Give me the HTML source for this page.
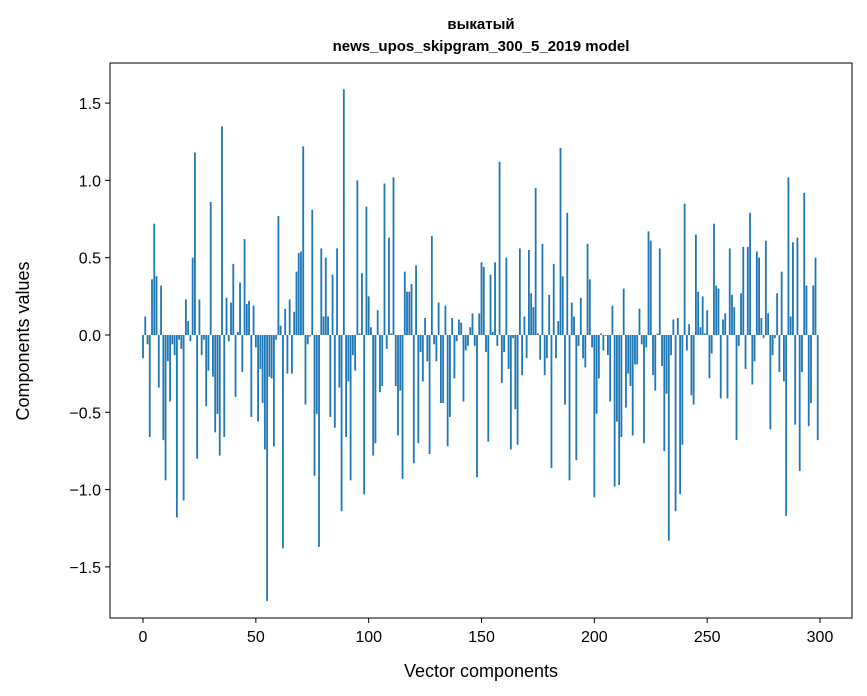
<!DOCTYPE html>
<html><head><meta charset="utf-8"><style>
body{margin:0;background:#fff;}
svg{display:block;font-family:"Liberation Sans","DejaVu Sans",sans-serif;}
</style></head><body>
<svg id="chart" width="867" height="696" viewBox="0 0 867 696" xmlns="http://www.w3.org/2000/svg">
<rect x="0" y="0" width="867" height="696" fill="#fff"/>
<text x="481" y="29" text-anchor="middle" font-size="15" font-weight="bold">выкатый</text>
<text x="481" y="51" text-anchor="middle" font-size="15" font-weight="bold">news_upos_skipgram_300_5_2019 model</text>
<g id="bars"></g>
<g id="xticks"></g>
<g id="yticks"></g>
<rect x="110" y="63" width="742" height="555" fill="none" stroke="#000" stroke-width="1"/>
<text x="481" y="677" text-anchor="middle" font-size="18">Vector components</text>
<text x="0" y="0" transform="translate(29,341) rotate(-90)" text-anchor="middle" font-size="18">Components values</text>
</svg>
<script>
const values = [
-0.15,0.12,-0.06,-0.66,0.36,0.72,0.38,-0.34,0.32,-0.68,-0.94,-0.17,-0.43,-0.06,-0.13,-1.18,-0.03,-0.09,-1.07,0.23,0.09,-0.04,0.5,1.18,-0.8,
0.23,-0.13,-0.03,-0.46,-0.23,0.86,-0.27,-0.63,-0.51,-0.78,1.35,-0.66,0.24,-0.04,0.21,0.46,-0.4,0.02,0.34,-0.24,0.62,0.2,0.22,-0.53,0.19,
-0.08,-0.56,-0.22,-0.44,-0.74,-1.72,-0.27,-0.28,-0.72,-0.03,0.77,0.06,-1.38,0.17,-0.25,0.23,-0.25,0.15,0.41,0.53,0.54,1.22,-0.45,-0.06,-0.01,
0.81,-0.91,-0.51,-1.37,0.56,0.12,0.5,0.12,-0.53,0.39,-0.6,0.56,-0.34,-1.14,1.59,-0.66,-0.3,-0.94,-0.13,-0.23,1.0,0.01,0.4,-1.03,0.83,
0.25,0.05,-0.78,-0.7,0.16,-0.37,-0.33,0.98,-0.09,0.63,0.01,1.02,-0.33,-0.65,-0.36,-0.93,0.41,0.28,0.28,0.33,-0.83,0.45,-0.7,-0.11,-0.3,
0.11,-0.17,-0.77,0.64,-0.06,-0.17,0.21,-0.44,-0.44,0.19,-0.72,-0.53,0.11,-0.28,-0.04,0.1,0.08,-0.43,-0.1,-0.07,0.05,0.14,-0.07,-0.92,0.14,
0.47,0.44,-0.11,-0.69,0.39,0.02,0.47,-0.07,1.12,-0.31,-0.11,0.5,-0.22,-0.74,-0.02,-0.48,-0.71,0.56,-0.26,0.12,-0.15,0.55,0.27,0.18,0.95,
0.01,-0.16,0.59,-0.26,-0.15,0.26,-0.86,0.46,-0.15,0.09,1.21,0.38,-0.45,0.79,-0.94,0.21,0.12,-0.81,-0.07,0.24,-0.15,-0.21,0.59,0.36,-0.08,
-1.05,-0.51,-0.28,0.01,-0.1,-0.005,-0.13,-0.43,0.19,-0.98,-0.56,-0.97,-0.66,0.3,-0.47,-0.25,-0.33,-0.65,-0.19,-0.19,0.17,-0.06,-0.7,-0.08,0.67,
0.61,-0.26,-0.36,0.01,0.56,-0.2,-0.75,-0.38,-1.33,-0.13,0.1,-1.14,0.11,-1.03,-0.71,0.85,-0.1,0.07,-0.39,-0.45,0.65,0.28,0.05,0.25,0.01,
0.16,-0.28,-0.12,0.72,0.32,0.3,-0.41,0.1,0.14,-0.41,0.56,0.26,0.18,-0.68,-0.07,0.27,0.57,-0.22,0.57,0.79,-0.32,-0.17,0.54,0.5,0.11,
-0.02,0.61,0.14,-0.61,-0.13,-0.02,0.27,-0.24,0.41,-0.3,-1.17,1.02,0.12,0.6,-0.58,0.63,-0.88,-0.24,0.92,0.32,-0.59,-0.44,0.32,0.5,-0.68
];
const xTickValues = [0,50,100,150,200,250,300];
const yTickValues = [-1.5,-1.0,-0.5,0.0,0.5,1.0,1.5];
const yTickLabels = ["−1.5","−1.0","−0.5","0.0","0.5","1.0","1.5"];

const NS="http://www.w3.org/2000/svg";
const X0=143, XS=2.2567, Y0=335, YS=154.6;
function xScale(v){return X0+v*XS;}
function yScale(v){return Y0-v*YS;}

const bars=document.getElementById('bars');
values.forEach((v,i)=>{
  const r=document.createElementNS(NS,'rect');
  const w=0.8*XS;
  r.setAttribute('x',xScale(i)-w/2);
  const y1=yScale(Math.max(v,0)), y2=yScale(Math.min(v,0));
  r.setAttribute('y',y1);
  r.setAttribute('width',w);
  r.setAttribute('height',Math.max(y2-y1,0.3));
  r.setAttribute('fill','#1f77b4');
  
  
  bars.appendChild(r);
});

const xt=document.getElementById('xticks');
xTickValues.forEach(v=>{
  const x=xScale(v);
  const l=document.createElementNS(NS,'line');
  l.setAttribute('x1',x);l.setAttribute('x2',x);l.setAttribute('y1',618);l.setAttribute('y2',623);
  l.setAttribute('stroke','#000');
  
  
  xt.appendChild(l);
  const t=document.createElementNS(NS,'text');
  t.setAttribute('x',x);t.setAttribute('y',642);t.setAttribute('text-anchor','middle');t.setAttribute('font-size','16');
  t.textContent=String(v);
  
  
  xt.appendChild(t);
});
const yt=document.getElementById('yticks');
yTickValues.forEach((v,i)=>{
  const y=yScale(v);
  const l=document.createElementNS(NS,'line');
  l.setAttribute('x1',105);l.setAttribute('x2',110);l.setAttribute('y1',y);l.setAttribute('y2',y);
  l.setAttribute('stroke','#000');
  
  
  yt.appendChild(l);
  const t=document.createElementNS(NS,'text');
  t.setAttribute('x',101);t.setAttribute('y',y+6);t.setAttribute('text-anchor','end');t.setAttribute('font-size','16');
  t.textContent=yTickLabels[i];
  
  
  yt.appendChild(t);
});
</script>
</body></html>
